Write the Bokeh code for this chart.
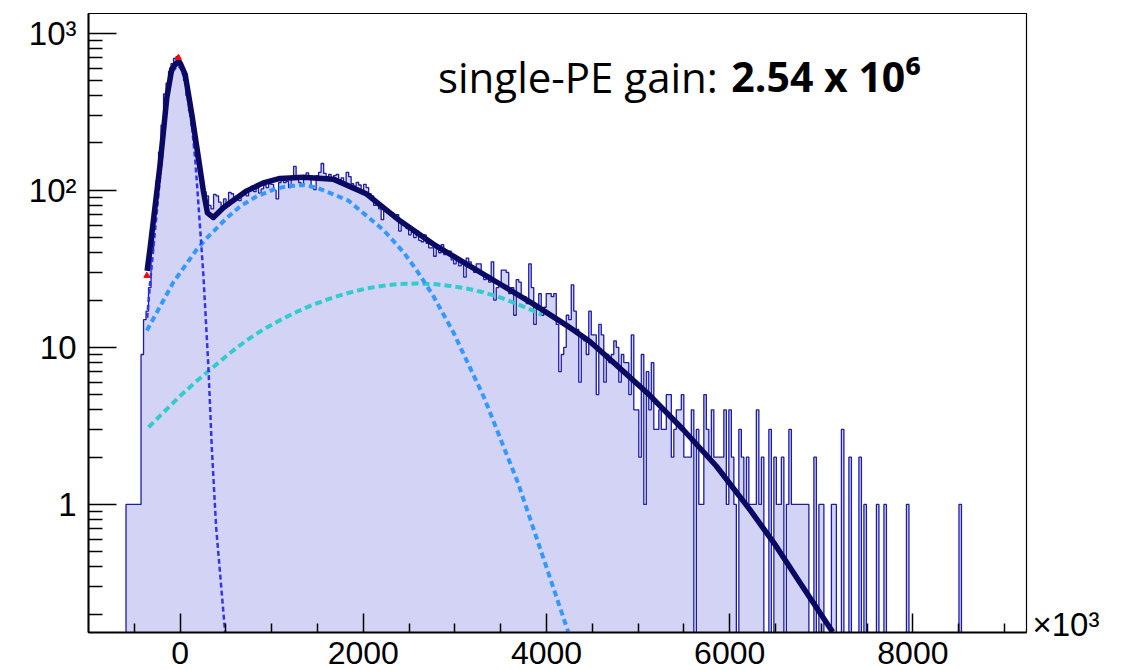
import numpy as np
from bokeh.plotting import figure
from bokeh.models import FixedTicker, Label, LogAxis
from bokeh.embed import file_html
from bokeh.resources import INLINE

# ---------------- data ----------------
HIST_LO, HIST_HI, N_BINS = -1000.0, 9240.0, 375
DENSE_START_X = -590.0   # x where the contiguous block of counts begins
DENSE_COUNTS = [
    1, 1, 1, 1, 1, 1, 9, 15, 17, 24, 42, 72, 115, 175, 260, 410, 480, 570, 640, 690,
    710, 670, 600, 500, 400, 320, 255, 195, 160, 135, 115, 98, 92, 80, 76, 94, 92, 84, 78, 88,
    80, 97, 95, 88, 92, 86, 96, 99, 92, 100, 106, 98, 104, 96, 102, 108, 104, 110, 109, 100,
    88, 112, 118, 112, 114, 104, 120, 142, 118, 112, 108, 122, 129, 120, 104, 101, 124, 130, 148, 128,
    122, 126, 118, 124, 126, 116, 120, 112, 130, 122, 110, 106, 112, 108, 100, 109, 104, 95, 92, 80,
    84, 76, 65, 74, 72, 71, 72, 66, 70, 55, 62, 60, 57, 52, 54, 50, 55, 48, 47, 52,
    46, 43, 43, 38, 44, 40, 45, 39, 41, 41, 36, 34, 37, 33, 35, 28, 37, 35, 33, 30,
    34, 34, 29, 27, 29, 26, 35, 20, 24, 25, 31, 31, 30, 22, 24, 16, 27, 26, 21, 21,
    19, 34, 24, 14, 18, 22, 16, 18, 22, 22, 21, 22, 14, 7, 9, 10, 16, 15, 25, 17,
    13, 6, 12, 11, 9, 17, 12, 12, 5, 14, 12, 6, 9, 8, 9, 11, 10, 6, 9, 8,
    8, 5, 12, 4, 4, 2, 9, 1, 7, 4, 8, 3, 3, 4, 3, 3, 5, 5, 2, 3,
    4, 4, 5, 2, 2, 2, 4, 0, 3, 1, 1, 5, 3, 2, 4, 2, 2, 2, 2, 4,
    1, 4, 2, 1, 0, 3, 2, 1, 2, 1, 1, 1, 4, 1, 2, 0, 0, 3, 0, 2,
    1, 1, 2, 0, 1, 3, 1, 1, 1, 1, 1, 1, 1,
]
TAIL_X = [6933, 6987, 7015, 7124, 7151, 7233, 7315, 7424, 7479, 7615, 7697, 7943, 8516]
TAIL_COUNTS = [2, 1, 1, 1, 1, 3, 2, 2, 1, 1, 1, 1, 1]

# fit curves
TOTAL_X = [-360, -327, -218, -145, -91, -36, 0, 55, 128, 200, 254, 298, 363, 472, 545, 728,
           909, 1091, 1345, 1672, 2037, 2400, 2763, 3128, 3491, 3854, 4219, 4473, 4764,
           5127, 5491, 5855, 6218, 6500, 6764, 7124]
TOTAL_Y = [30.7, 43.2, 146.5, 388, 591, 648, 646, 547, 305, 161, 99, 71.8, 67.1, 77.3, 83.2,
           99.1, 111.4, 119, 120.8, 117.7, 94.5, 63.9, 45.4, 33.9, 25.3, 18.9, 13.8, 10.9,
           7.7, 4.95, 3.0, 1.75, 0.93, 0.55, 0.32, 0.154]
PED_X = [-360, -327, -218, -145, -91, -36, 0, 55, 128, 164, 218, 254, 309, 346, 393, 491]
PED_Y = [15.4, 26, 122, 360, 560, 614, 609, 505, 260, 160, 58, 29, 7.5, 2.3, 0.72, 0.154]
PE1_X = [-363, -73, 182, 291, 509, 655, 837, 1018, 1164, 1345, 1491, 1836, 2218, 2436,
         2582, 2763, 2982, 3318, 3691, 4236]
PE1_Y = [12.8, 26, 42, 49.6, 66.5, 79, 91.5, 101, 106, 108, 104, 86, 56, 40.5, 31, 21.3,
         12.5, 4.8, 1.36, 0.155]
PE2_X = [-345, 0, 180, 363, 545, 727, 909, 1091, 1270, 1454, 1673, 1850, 2036, 2220, 2400,
         2580, 2764, 2950, 3127, 3310, 3491, 3670, 3855, 3950]
PE2_Y = [3.1, 4.9, 6.1, 7.5, 9.2, 11.1, 13.0, 14.9, 16.8, 18.7, 20.8, 22.3, 23.7, 24.7, 25.3,
         25.5, 25.3, 24.6, 23.7, 22.4, 20.8, 19.0, 17.1, 16.1]
MARK_X = [-18, -363]
MARK_Y = [698, 28.6]

X_TICKS = [0, 2000, 4000, 6000, 8000]
X_MINOR = [-500, 500, 1000, 1500, 2500, 3000, 3500, 4500, 5000, 5500, 6500, 7000, 7500, 8500, 9000]
Y_TICKS = [1, 10, 100, 1000]
Y_LABELS = {1: "1", 10: "10", 100: "10\u00b2", 1000: "10\u00b3"}
X_EXPONENT_TEXT = "\u00d710\u00b3"
X_EXPONENT_AT = 0.1726          # y level where the x-axis exponent sits (just above the axis)

# ---------------- histogram build ----------------
w = (HIST_HI - HIST_LO) / N_BINS
counts = np.zeros(N_BINS)
i0 = int(round((DENSE_START_X - HIST_LO) / w))
counts[i0:i0 + len(DENSE_COUNTS)] = DENSE_COUNTS
for xv, cv in zip(TAIL_X, TAIL_COUNTS):
    counts[int((xv - HIST_LO) // w)] = cv
edges = HIST_LO + w * np.arange(N_BINS + 1)
FLOOR = 1e-3
xs, ys = [HIST_LO], [FLOOR]
for i in range(N_BINS):
    c = counts[i] if counts[i] > 0 else FLOOR
    xs += [edges[i], edges[i + 1]]
    ys += [c, c]
xs.append(HIST_HI)
ys.append(FLOOR)

# ---------------- figure ----------------
p = figure(width=1128, height=670, x_range=(HIST_LO, HIST_HI), y_range=(0.153, 1334),
           y_axis_type="log", output_backend="svg", toolbar_location=None,
           min_border_left=88, min_border_right=102, min_border_top=13, min_border_bottom=38)
p.xgrid.visible = False
p.ygrid.visible = False
p.outline_line_color = "black"
p.outline_line_width = 1.2
p.background_fill_color = "white"
p.border_fill_color = "white"

p.patch(xs, ys, fill_color="#d3d3f5", line_color=None)
p.line(xs, ys, line_color="#1c1ca6", line_width=1.3)

p.line(PE2_X, PE2_Y, line_color="#33cccc", line_width=4, line_dash="7 4")
p.line(PE1_X, PE1_Y, line_color="#3399ff", line_width=4, line_dash="6 4")
p.line(PED_X, PED_Y, line_color="#3333f5", line_width=2.5, line_dash="5 3")
p.line(TOTAL_X, TOTAL_Y, line_color="#0a0a62", line_width=5.5, line_join="round")
p.scatter(MARK_X, MARK_Y, marker="triangle", size=6, color="red")

FONT = "Liberation Sans"
xa = p.xaxis[0]
xa.ticker = FixedTicker(ticks=X_TICKS, minor_ticks=X_MINOR)
xa.axis_line_width = 2
xa.major_tick_in = 19
xa.major_tick_out = 0
xa.minor_tick_in = 9
xa.minor_tick_out = 0
xa.major_tick_line_width = 1.5
xa.minor_tick_line_width = 1.5
xa.major_label_text_font = FONT
xa.major_label_text_font_size = "32px"
xa.major_label_text_color = "black"
xa.major_label_standoff = 9

ya = p.yaxis[0]
ya.ticker = FixedTicker(ticks=Y_TICKS,
                        minor_ticks=[m * d for d in (0.1, 1, 10, 100) for m in range(2, 10)])
ya.major_label_overrides = Y_LABELS
ya.axis_line_width = 2
ya.major_tick_in = 28
ya.major_tick_out = 0
ya.minor_tick_in = 14
ya.minor_tick_out = 0
ya.major_tick_line_width = 1.5
ya.minor_tick_line_width = 1.5
ya.major_label_text_font = FONT
ya.major_label_text_font_size = "33px"
ya.major_label_text_color = "black"
ya.major_label_standoff = 12

# x-axis exponent, drawn as a label of an otherwise invisible right-hand axis
ra = LogAxis(ticker=FixedTicker(ticks=[X_EXPONENT_AT], minor_ticks=[]),
             major_label_overrides={X_EXPONENT_AT: X_EXPONENT_TEXT})
ra.axis_line_color = None
ra.major_tick_line_color = None
ra.minor_tick_line_color = None
ra.major_tick_out = 0
ra.major_tick_in = 0
ra.major_label_standoff = 6
ra.major_label_text_font = FONT
ra.major_label_text_font_size = "33px"
ra.major_label_text_color = "black"
p.add_layout(ra, "right")

p.add_layout(Label(x=2815, y=530, text="single-PE gain:", text_font="Open Sans",
                   text_font_size="42px", text_color="black", text_baseline="alphabetic"))
p.add_layout(Label(x=6018, y=530, text="2.54 x 10\u2076", text_font="Open Sans",
                   text_font_style="bold", text_font_size="41px", text_color="black",
                   text_baseline="alphabetic"))

open("out.html", "w").write(file_html(p, INLINE))
